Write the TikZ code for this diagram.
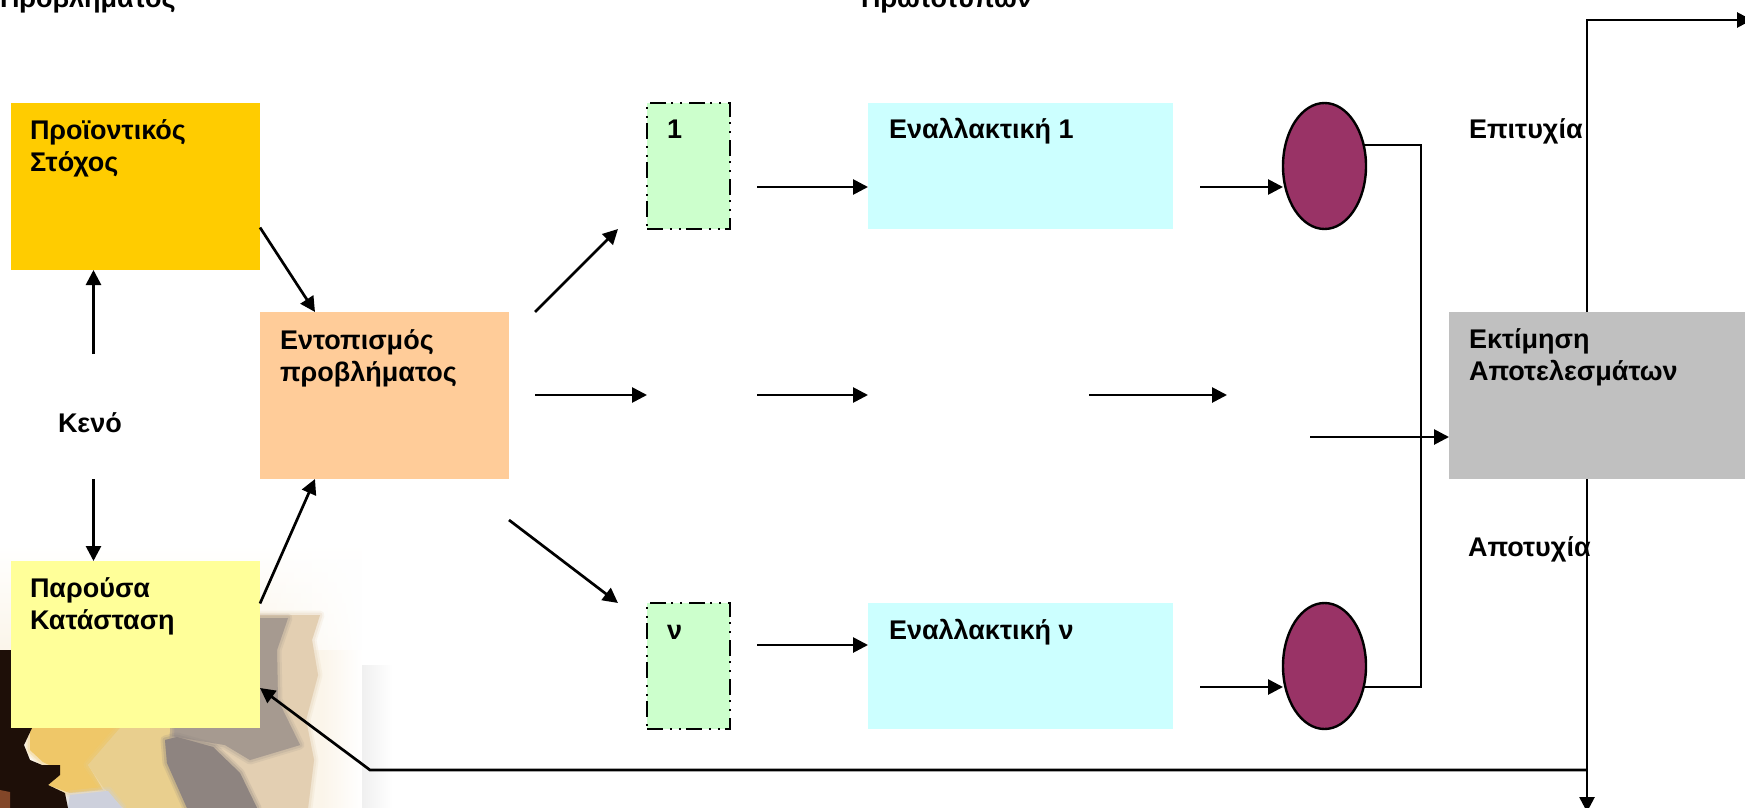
\documentclass[tikz,border=0pt]{standalone}
\usepackage{fontspec}
\setmainfont{Liberation Sans}
\newfontfamily\labelfont{Liberation Sans}
\usetikzlibrary{arrows.meta,calc,shapes.geometric,fadings}
\definecolor{cgoal}{HTML}{FFCC00}
\definecolor{cnow}{HTML}{FFFF99}
\definecolor{cprob}{HTML}{FFCC99}
\definecolor{cgreen}{HTML}{CCFFCC}
\definecolor{ccyan}{HTML}{CCFFFF}
\definecolor{cgray}{HTML}{C0C0C0}
\definecolor{cplum}{HTML}{993366}
\definecolor{pcream}{HTML}{FBF5EA}
\definecolor{ptan}{HTML}{E3CFB2}
\definecolor{pstone}{HTML}{A69A90}
\definecolor{pyellow}{HTML}{EFC768}
\definecolor{ppale}{HTML}{E9CF8E}
\definecolor{pgrey}{HTML}{8E8480}
\definecolor{pblue}{HTML}{CDD0DC}
\definecolor{pdark}{HTML}{1E0F08}
\definecolor{pbrown}{HTML}{824628}
\newcommand{\softpoly}[2]{%
  \draw[#1,line width=9pt,line join=round,opacity=.18,fill=#1] #2;
  \draw[#1,line width=5pt,line join=round,opacity=.28,fill=#1] #2;
  \fill[#1] #2;}
\tikzset{
  boxnode/.style={draw=none,inner sep=0pt,outer sep=0pt,rectangle},
  bignode/.style={boxnode,minimum width=249pt,minimum height=167pt},
  altbox/.style={boxnode,fill=ccyan,minimum width=305pt,minimum height=126pt},
  numbox/.style={rectangle,inner sep=0pt,outer sep=0pt,fill=cgreen,draw=black,line width=2.2pt,
    minimum width=83pt,minimum height=126pt,dash pattern=on 16pt off 7pt on 2pt off 7pt on 2pt off 5pt},
  decision/.style={ellipse,inner sep=0pt,outer sep=0pt,fill=cplum,draw=black,line width=2.4pt,
    minimum width=83pt,minimum height=126pt},
  lbl/.style={inner sep=0pt,outer sep=0pt,anchor=base west,align=left,
    font=\fontsize{27}{31.5}\selectfont\labelfont\bfseries},
  conn/.style={line width=2.7pt,-{Triangle[length=15pt,width=15pt]}},
  plain/.style={line width=2.2pt}
}
\begin{document}
\begin{tikzpicture}[x=1pt,y=-1pt]
\useasboundingbox (0,0) rectangle (1745,808);
\fill[white] (0,0) rectangle (1745,808);
% faded photograph
\shade[top color=white,bottom color=pcream] (0,545) rectangle (260,650);
\shade[top color=white,bottom color=pcream,path fading=east] (260,545) rectangle (362,650);
\fill[pcream] (0,650) rectangle (322,808);
\shade[left color=pcream,right color=white] (322,650) rectangle (362,808);
\shade[left color=black!6,right color=white] (362,665) rectangle (392,808);
\softpoly{ptan}{(260,615)--(320,615)--(312,640)--(318,675)--(306,720)--(314,760)--(308,808)--(160,808)--(160,728)--(260,728)--cycle}
\softpoly{pstone}{(260,618)--(288,618)--(277,650)--(278,700)--(300,745)--(250,760)--(225,745)--(165,735)--(165,728)--(260,728)--cycle}
\softpoly{pyellow}{(30,728)--(125,728)--(88,765)--(103,790)--(70,793)--(48,785)--(60,770)--(43,762)--(30,750)--cycle}
\softpoly{ppale}{(88,765)--(120,728)--(170,728)--(168,763)--(190,808)--(123,808)--(103,787)--cycle}
\softpoly{pgrey}{(165,740)--(177,737)--(213,747)--(240,773)--(257,808)--(187,808)--(167,763)--cycle}
\softpoly{pblue}{(70,795)--(108,791)--(122,808)--(68,808)--cycle}
\fill[pdark] (0,650)--(11,650)--(11,728)--(32,728)--(24,745)--(30,760)--(42,765)--(60,765)--(60,775)--(48,785)--(65,793)--(68,808)--(0,808)--cycle;
\fill[pbrown] (0,790)--(10,792)--(10,808)--(0,808)--cycle;
% boxes
\node[bignode,fill=cgoal] (goal) at (135.5,186.5) {};
\node[bignode,fill=cnow] (now) at (135.5,644.5) {};
\node[bignode,fill=cprob] (prob) at (384.5,395.5) {};
\node[numbox] (n1) at (688.5,166) {};
\node[numbox] (nv) at (688.5,666) {};
\node[altbox] (a1) at (1020.5,166) {};
\node[altbox] (av) at (1020.5,666) {};
\node[decision] (e1) at (1324.5,166) {};
\node[decision] (ev) at (1324.5,666) {};
\node[boxnode,fill=cgray,minimum width=296pt,minimum height=167pt] (est) at (1597,395.5) {};
% free ends
\coordinate (gapU) at (93.5,354);
\coordinate (gapD) at (93.5,479);
\coordinate (mid1) at (535,395);
\coordinate (mid2) at (647,395);
\coordinate (mid3) at (757,395);
\coordinate (mid4) at (868,395);
\coordinate (mid5) at (1089,395);
\coordinate (mid6) at (1227,395);
\coordinate (mid7) at (1310,437);
\coordinate (bus) at (1421,145);
\coordinate (busv) at (1421,687);
\coordinate (upT) at (1587,20);
\coordinate (upE) at (1752,20);
\coordinate (dnE) at (1587,812);
\coordinate (fb1) at (1587,770);
\coordinate (fb2) at (370,770);
% connectors
\draw[conn] (gapU) -- (gapU |- goal.south);
\draw[conn] (gapD) -- (gapD |- now.north);
\draw[conn] ($(goal.east)+(0,41)$) -- ($(prob.north west)+(55,0)$);
\draw[conn] ($(now.east)+(0,-41)$) -- ($(prob.south west)+(55,0)$);
\draw[conn] ($(prob.north east)+(26,0)$) -- ($(n1.south west)+(-29,0)$);
\draw[conn] ($(prob.south east)+(0,41)$) -- ($(nv.north west)+(-29,0)$);
\draw[conn] (mid1) -- (mid2);
\draw[conn] (mid3) -- (mid4);
\draw[conn] (mid5) -- (mid6);
\draw[conn] (mid7) -- (mid7 -| est.west);
\draw[conn] ($(n1.east)+(27,21)$) -- ($(a1.west)+(0,21)$);
\draw[conn] ($(nv.east)+(27,-21)$) -- ($(av.west)+(0,-21)$);
\draw[conn] ($(a1.east)+(27,21)$) -- ($(e1.west)+(0,21)$);
\draw[conn] ($(av.east)+(27,21)$) -- ($(ev.west)+(0,21)$);
\draw[plain] ($(e1.center)+(39.1,-21)$) -- (bus) -- (busv) -- ($(ev.center)+(39.1,21)$);
\draw[conn] (upT |- est.north) -- (upT) -- (upE);
\draw[conn] (dnE |- est.south) -- (dnE);
\draw[conn] (fb1) -- (fb2) -- ($(now.east)+(0,43.5)$);
% labels
\node[lbl] (t1) at (0,8) {Προβλήματος};
\node[lbl] (t2) at (861,8) {Πρωτοτύπων};
\node[lbl] (tgoal) at (30,171) {Προϊοντικός\\Στόχος};
\node[lbl] (tnow) at (30,629) {Παρούσα\\Κατάσταση};
\node[lbl] (tgap) at (58,432) {Κενό};
\node[lbl] (tprob) at (280,381) {Εντοπισμός\\προβλήματος};
\node[lbl] (tn1) at (667,138) {1};
\node[lbl] (tnv) at (667,639) {ν};
\node[lbl] (ta1) at (889,138) {Εναλλακτική 1};
\node[lbl] (tav) at (889,639) {Εναλλακτική ν};
\node[lbl] (tok) at (1469,138) {Επιτυχία};
\node[lbl] (tno) at (1468,556) {Αποτυχία};
\node[lbl] (test) at (1469,380) {Εκτίμηση\\Αποτελεσμάτων};
\end{tikzpicture}
\end{document}
